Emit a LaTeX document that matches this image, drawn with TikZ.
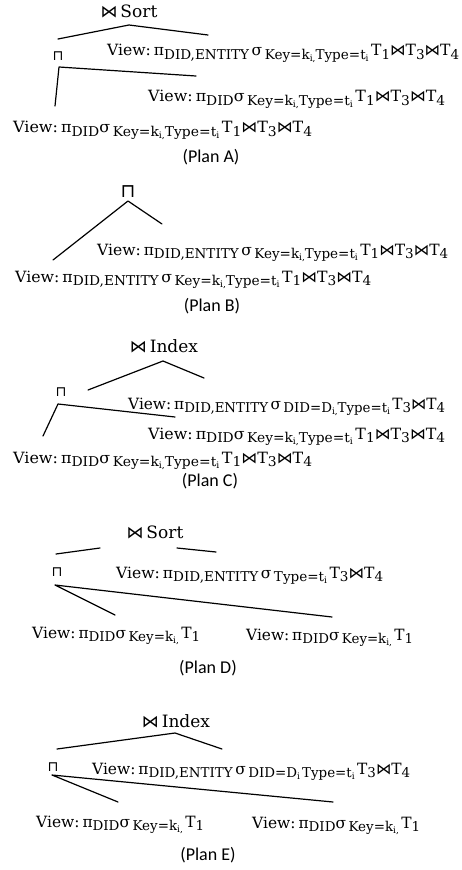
\documentclass[tikz,border=0pt]{standalone}
\usepackage{graphicx}
\usepackage{fontspec}
\setmainfont{DejaVu Serif}
\newfontfamily\planfont{Carlito}
\newfontfamily\symfont{DejaVu Sans}
\newcommand{\sbs}[1]{\raisebox{-3.5pt}{\fontsize{13.5}{15}\selectfont#1}}
\newcommand{\ssbs}[1]{\raisebox{-2.4pt}{\fontsize{9}{10}\selectfont#1}}
\newcommand{\bt}{{\symfont ⋈}}
\newcommand{\vw}{View:\hspace{3pt}}
\newcommand{\gp}{\hspace{2.5pt}}
\newcommand{\fitto}[2]{\resizebox{#1}{\height}{#2}}
\newcommand{\qA}{\vw π\sbs{DID,ENTITY}\gp σ\gp\sbs{Key=k\ssbs{i,}Type=t\ssbs{i}}\gp T\sbs{1}\bt T\sbs{3}\bt T\sbs{4}}
\newcommand{\qB}{\vw π\sbs{DID}σ\gp\sbs{Key=k\ssbs{i,}Type=t\ssbs{i}}\gp T\sbs{1}\bt T\sbs{3}\bt T\sbs{4}}
\newcommand{\qK}{\vw π\sbs{DID}σ\gp\sbs{Key=k\ssbs{i,}}\gp T\sbs{1}}
\tikzset{
  txt/.style={anchor=base west, inner sep=0pt, font=\fontsize{15.5}{18}\selectfont},
  oplbl/.style={anchor=base, inner sep=0pt, font=\fontsize{17}{20}\selectfont},
  capsym/.style={inner sep=0pt, font=\symfont\fontsize{14}{16}\selectfont},
  planlbl/.style={inner sep=0pt, font=\planfont\fontsize{18}{20}\selectfont},
  edge/.style={line width=1.2pt, line cap=round, line join=round}
}
\begin{document}
\begin{tikzpicture}[x=1pt,y=-1pt]
\useasboundingbox (0,0) rectangle (461,870);
% ---------------- Plan A
\node[oplbl] (sortA) at (129,17) {\bt\,Sort};
\node[capsym] (capA) at (58,56) {⊓};
\node[txt] (a1) at (107,56) {\fitto{352pt}{\qA}};
\node[txt] (a2) at (148,101.5) {\fitto{297pt}{\qB}};
\node[txt] (a3) at (13,132.5) {\fitto{299pt}{\qB}};
\node[planlbl] (pa) at (211,157) {(Plan A)};
\coordinate (aL1) at (58,39); \coordinate (aT) at (129,25); \coordinate (aR1) at (208,35);
\coordinate (aB) at (55,106); \coordinate (aJ) at (59,67); \coordinate (aR2) at (196,76);
\draw[edge] (aL1) -- (aT) -- (aR1);
\draw[edge] (aB) -- (aJ) -- (aR2);
% ---------------- Plan B
\node[capsym, font=\symfont\fontsize{19}{22}\selectfont] (capB) at (128,192) {⊓};
\node[txt] (b1) at (97,255) {\fitto{351pt}{\qA}};
\node[txt] (b2) at (15,282) {\fitto{356pt}{\qA}};
\node[planlbl] (pb) at (212,306) {(Plan B)};
\coordinate (bT) at (128,201); \coordinate (bL) at (53,260); \coordinate (bR) at (162,224);
\draw[edge] (bL) -- (bT) -- (bR);
% ---------------- Plan C
\node[oplbl] (idxC) at (164,352) {\bt\,Index};
\node[capsym] (capC) at (61,392) {⊓};
\node[txt] (c1) at (128,409) {\fitto{317pt}{\vw π\sbs{DID,ENTITY}\gp σ\gp\sbs{DID=D\ssbs{i,}Type=t\ssbs{i}}\gp T\sbs{3}\bt T\sbs{4}}};
\node[txt] (c2) at (148,439) {\fitto{297pt}{\qB}};
\node[txt] (c3) at (13,463) {\fitto{299pt}{\qB}};
\node[planlbl] (pc) at (210,481) {(Plan C)};
\coordinate (cL1) at (88,390); \coordinate (cT) at (163,361); \coordinate (cR1) at (204,378);
\coordinate (cB) at (43,436); \coordinate (cJ) at (58,404); \coordinate (cR2) at (175,417);
\draw[edge] (cL1) -- (cT) -- (cR1);
\draw[edge] (cB) -- (cJ) -- (cR2);
% ---------------- Plan D
\node[oplbl] (sortD) at (155,538) {\bt\,Sort};
\node[capsym] (capD) at (57,572) {⊓};
\node[txt] (d1) at (116,578) {\fitto{267pt}{\vw π\sbs{DID,ENTITY}\gp σ\gp\sbs{Type=t\ssbs{i}}\gp T\sbs{3}\bt T\sbs{4}}};
\node[txt] (d2) at (32,638) {\fitto{168pt}{\qK}};
\node[txt] (d3) at (246,640) {\fitto{167pt}{\qK}};
\node[planlbl] (pd) at (208,668) {(Plan D)};
\coordinate (dL1) at (56,554); \coordinate (dL2) at (100,548);
\coordinate (dR1) at (177,548); \coordinate (dR2) at (216,552);
\coordinate (dJ) at (55,585); \coordinate (dB1) at (115,615); \coordinate (dB2) at (332,617);
\draw[edge] (dL1) -- (dL2);
\draw[edge] (dR1) -- (dR2);
\draw[edge] (dB1) -- (dJ) -- (dB2);
% ---------------- Plan E
\node[oplbl] (idxE) at (176,727) {\bt\,Index};
\node[capsym] (capE) at (53,767) {⊓};
\node[txt] (e1) at (92,774) {\fitto{318pt}{\vw π\sbs{DID,ENTITY}\gp σ\gp\sbs{DID=D\ssbs{i}\,Type=t\ssbs{i}}\gp T\sbs{3}\bt T\sbs{4}}};
\node[txt] (e2) at (36,827) {\fitto{168pt}{\qK}};
\node[txt] (e3) at (252,828) {\fitto{168pt}{\qK}};
\node[planlbl] (pe) at (208,855) {(Plan E)};
\coordinate (eL1) at (57,749); \coordinate (eT) at (175,733); \coordinate (eR1) at (222,749);
\coordinate (eJ) at (52,775); \coordinate (eB1) at (118,802); \coordinate (eB2) at (333,802);
\draw[edge] (eL1) -- (eT) -- (eR1);
\draw[edge] (eB1) -- (eJ) -- (eB2);
\end{tikzpicture}
\end{document}
